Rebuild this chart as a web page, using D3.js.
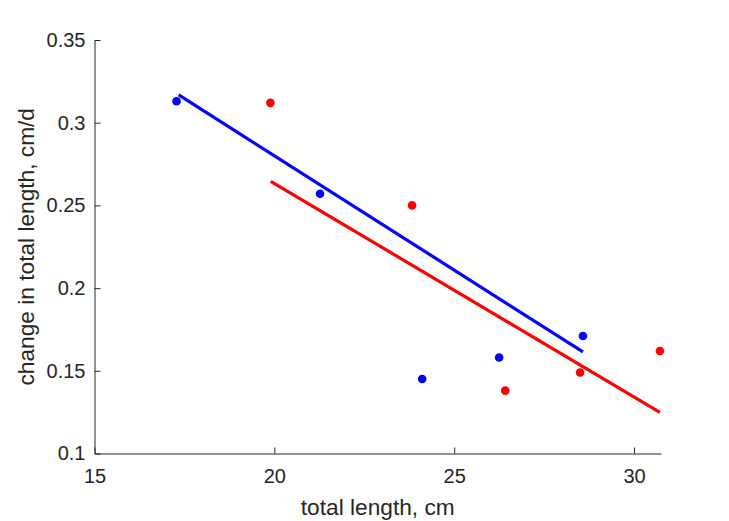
<!DOCTYPE html>
<html><head><meta charset="utf-8">
<script src="https://cdn.jsdelivr.net/npm/d3@7"></script>
<style>body{margin:0;background:#fff}svg{display:block}</style>
</head><body>
<svg id="chart" width="729" height="521"></svg>
<script>
const blueX = [17.28, 21.27, 24.11, 26.25, 28.58];
const blueY = [0.313, 0.257, 0.145, 0.158, 0.171];
const redX = [19.89, 23.83, 26.42, 28.5, 30.72];
const redY = [0.312, 0.250, 0.138, 0.149, 0.162];
const blueFitX = [17.34, 28.58];
const blueFitY = [0.3168, 0.1614];
const redFitX = [19.9, 30.72];
const redFitY = [0.2646, 0.1248];
const xTicks = [15, 20, 25, 30];
const yTicks = [0.1, 0.15, 0.2, 0.25, 0.3, 0.35];
const xLabel = "total length, cm";
const yLabel = "change in total length, cm/d";

const svg = d3.select("#chart");
const m = {l: 94.5, r: 661, t: 40, b: 453.5};
const x = d3.scaleLinear().domain([15, 30.75]).range([m.l, m.r]);
const y = d3.scaleLinear().domain([0.1, 0.35]).range([m.b, m.t]);
const axCol = "#262626";
const font = "'Liberation Sans', Arial, sans-serif";

const xAxis = svg.append("g").attr("transform", `translate(0,${m.b})`)
  .call(d3.axisBottom(x).tickValues(xTicks).tickSizeInner(-6).tickSizeOuter(0).tickPadding(15).tickFormat(d3.format("d")));
const yAxis = svg.append("g").attr("transform", `translate(${m.l},0)`)
  .call(d3.axisLeft(y).tickValues(yTicks).tickSizeInner(-6).tickSizeOuter(0).tickPadding(9).tickFormat(d => String(+d.toFixed(2))));
[xAxis, yAxis].forEach(a => {
  a.select(".domain").attr("stroke", axCol).attr("stroke-width", 1);
  a.selectAll(".tick line").attr("stroke", axCol);
  a.selectAll(".tick text").attr("fill", axCol).style("font-family", font).style("font-size", "20px");
});

svg.append("text").attr("x", (m.l + m.r) / 2).attr("y", 515)
  .attr("text-anchor", "middle").attr("fill", axCol)
  .style("font-family", font).style("font-size", "22.7px").text(xLabel);
svg.append("text").attr("transform", `translate(33.5,${(m.t + m.b) / 2}) rotate(-90)`)
  .attr("text-anchor", "middle").attr("fill", axCol)
  .style("font-family", font).style("font-size", "22.7px").text(yLabel);

const line = d3.line().x(d => x(d[0])).y(d => y(d[1]));
function drawSeries(xs, ys, fx, fy, col) {
  svg.append("g").selectAll("circle").data(xs.map((v, i) => [v, ys[i]])).join("circle")
    .attr("cx", d => x(d[0])).attr("cy", d => y(d[1])).attr("r", 4.3).attr("fill", col);
  svg.append("path").datum(fx.map((v, i) => [v, fy[i]])).attr("d", line)
    .attr("fill", "none").attr("stroke", col).attr("stroke-width", 3.2);
}
drawSeries(blueX, blueY, blueFitX, blueFitY, "#0000ff");
drawSeries(redX, redY, redFitX, redFitY, "#ff0000");
</script>
</body></html>
